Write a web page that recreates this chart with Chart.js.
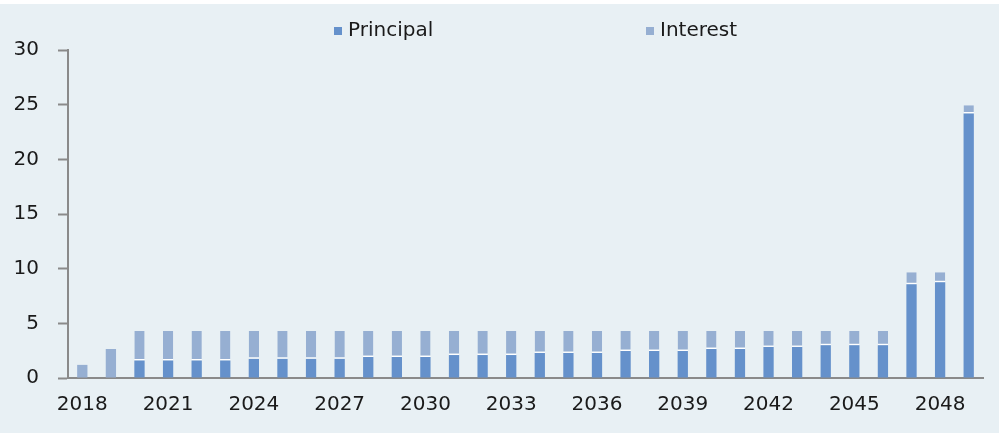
<!DOCTYPE html>
<html>
<head>
<meta charset="utf-8">
<script src="https://cdn.jsdelivr.net/npm/chart.js@4/dist/chart.umd.min.js"></script>
<style>
  html, body { margin: 0; padding: 0; background: #e8f0f4; }
  #wrap { width: 999px; height: 433px; position: relative;
          background: linear-gradient(#ffffff 0 4px, #e8f0f4 4px); }
</style>
</head>
<body>
<div id="wrap"><canvas id="barChart"></canvas></div>
<script>
var years = [];
for (var y = 2018; y <= 2049; y++) years.push(String(y));

var principal = [0, 0, 1.6, 1.6, 1.6, 1.6, 1.75, 1.75, 1.75, 1.75, 1.92, 1.92, 1.92,
                 2.1, 2.1, 2.1, 2.29, 2.29, 2.29, 2.47, 2.47, 2.47, 2.65, 2.65,
                 2.84, 2.84, 3.0, 3.0, 3.0, 8.57, 8.75, 24.2];
var interest = [1.2, 2.65, 2.7, 2.7, 2.7, 2.7, 2.55, 2.55, 2.55, 2.55, 2.38, 2.38, 2.38,
                2.2, 2.2, 2.2, 2.01, 2.01, 2.01, 1.83, 1.83, 1.83, 1.65, 1.65,
                1.46, 1.46, 1.3, 1.3, 1.3, 1.1, 0.92, 0.75];
var yTicks = [0, 5, 10, 15, 20, 25, 30];

var principalColor = '#6591cb';
var interestColor = '#96afd2';
var font = '"DejaVu Sans", sans-serif';

// legend drawn by hand, the two entries sit far apart
var spreadLegend = {
    id: 'spreadLegend',
    afterDraw: function (chart) {
        var ctx = chart.ctx;
        var items = [
            { text: 'Principal', color: principalColor, x: 334 },
            { text: 'Interest', color: interestColor, x: 646 }
        ];
        ctx.save();
        ctx.font = '20px ' + font;
        ctx.textBaseline = 'middle';
        items.forEach(function (it) {
            ctx.fillStyle = it.color;
            ctx.fillRect(it.x, 27, 8, 8);
            ctx.fillStyle = '#1a1a1a';
            ctx.fillText(it.text, it.x + 14, 31);
        });
        ctx.restore();
    }
};

var ctx = document.getElementById('barChart').getContext('2d');

var myChart = new Chart(ctx, {
    type: 'bar',
    data: {
        labels: years,
        datasets: [{
            label: 'Principal',
            data: principal,
            backgroundColor: principalColor,
            borderWidth: 0,
            categoryPercentage: 1,
            barPercentage: 0.36
        }, {
            label: 'Interest',
            data: interest,
            backgroundColor: interestColor,
            borderColor: '#ffffff',
            // thin white gap only where it sits on a principal segment
            borderWidth: function (c) {
                return principal[c.dataIndex] > 0 ? { top: 0, left: 0, right: 0, bottom: 1.5 } : 0;
            },
            borderSkipped: false,
            categoryPercentage: 1,
            barPercentage: 0.36
        }]
    },
    options: {
        responsive: true,
        maintainAspectRatio: false,
        animation: false,
        layout: { padding: { top: 50, left: 13, right: 16, bottom: 0 } },
        plugins: {
            legend: { display: false },
            tooltip: { enabled: false }
        },
        scales: {
            x: {
                stacked: true,
                afterFit: function (axis) { axis.height = 55; },
                grid: { display: true, drawOnChartArea: false, drawTicks: false },
                border: { color: '#8a8a8a', width: 2 },
                ticks: {
                    autoSkip: false,
                    maxRotation: 0,
                    padding: 15,
                    color: '#1a1a1a',
                    font: { family: font, size: 20 },
                    callback: function (v, i) { return i % 3 === 0 ? years[i] : ''; }
                }
            },
            y: {
                stacked: true,
                min: 0,
                max: 30,
                afterBuildTicks: function (axis) {
                    axis.ticks = yTicks.map(function (v) { return { value: v }; });
                },
                afterFit: function (axis) { axis.width = 55; },
                grid: { drawOnChartArea: false, tickLength: 10, tickColor: '#8a8a8a', tickWidth: 2 },
                border: { color: '#8a8a8a', width: 2 },
                ticks: {
                    padding: 19,
                    color: '#1a1a1a',
                    font: { family: font, size: 20 }
                }
            }
        }
    },
    plugins: [spreadLegend]
});
</script>
</body>
</html>
